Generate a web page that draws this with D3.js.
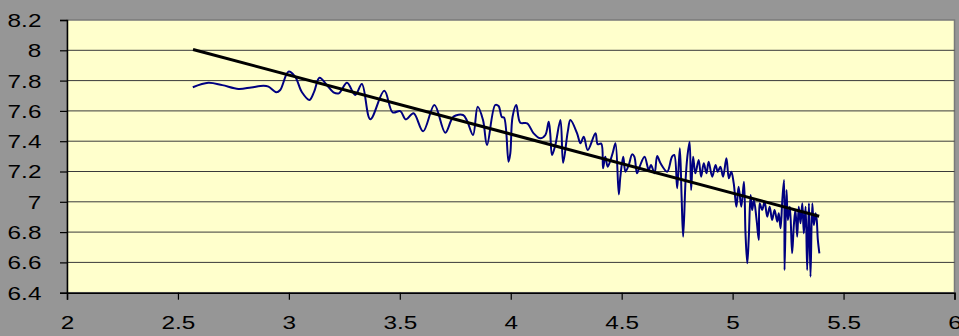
<!DOCTYPE html>
<html>
<head>
<meta charset="utf-8">
<script src="https://cdn.jsdelivr.net/npm/d3@7"></script>
<style>
  body { margin: 0; background: #969696; }
  svg { display: block; }
</style>
</head>
<body>
<svg id="chart"></svg>
<script>
// axis ticks
const xTicks = [2, 2.5, 3, 3.5, 4, 4.5, 5, 5.5, 6];
const yTicks = [6.4, 6.6, 6.8, 7, 7.2, 7.4, 7.6, 7.8, 8, 8.2];

const seriesX = [2.567, 2.637, 2.70, 2.773, 2.83, 2.886, 2.908, 2.943, 2.961, 2.998,
  3.028, 3.059, 3.093, 3.114, 3.138, 3.171, 3.201, 3.225, 3.262, 3.299,
  3.329, 3.367, 3.43, 3.468, 3.502, 3.527, 3.562, 3.605, 3.656, 3.705,
  3.742, 3.785, 3.803, 3.83, 3.851, 3.875, 3.893, 3.93, 3.945, 3.96,
  3.97, 3.99, 3.998, 4.008, 4.025, 4.043, 4.074, 4.103, 4.133, 4.156,
  4.171, 4.178, 4.186, 4.201, 4.224, 4.236, 4.257, 4.269, 4.299, 4.314,
  4.329, 4.347, 4.382, 4.392, 4.408, 4.416, 4.426, 4.437, 4.452, 4.461,
  4.472, 4.487, 4.494, 4.507, 4.517, 4.532, 4.547, 4.557, 4.569, 4.581,
  4.603, 4.622, 4.632, 4.648, 4.66, 4.675, 4.705, 4.727, 4.737, 4.75,
  4.762, 4.77, 4.777, 4.788, 4.796, 4.806, 4.813, 4.822, 4.832, 4.847,
  4.858, 4.87, 4.882, 4.892, 4.908, 4.923, 4.933, 4.945, 4.957, 4.972,
  4.983, 4.994, 5.005, 5.017, 5.027, 5.039, 5.051, 5.058, 5.066, 5.073,
  5.081, 5.088, 5.096, 5.108, 5.118, 5.122, 5.133, 5.144, 5.156, 5.167,
  5.178, 5.189, 5.201, 5.208, 5.216, 5.224, 5.232, 5.234, 5.243, 5.249,
  5.258, 5.268, 5.276, 5.283, 5.291, 5.298, 5.306, 5.314, 5.321, 5.329,
  5.336, 5.344, 5.351, 5.359, 5.366, 5.374, 5.379, 5.384, 5.391];
const seriesY = [7.756, 7.786, 7.77, 7.745, 7.755, 7.766, 7.76, 7.723, 7.738, 7.859,
  7.826, 7.723, 7.672, 7.727, 7.819, 7.771, 7.723, 7.716, 7.786, 7.705,
  7.778, 7.545, 7.733, 7.59, 7.599, 7.544, 7.584, 7.465, 7.639, 7.456,
  7.562, 7.573, 7.535, 7.441, 7.628, 7.54, 7.375, 7.639, 7.632, 7.56,
  7.556, 7.265, 7.32, 7.56, 7.639, 7.522, 7.518, 7.452, 7.419, 7.441,
  7.529, 7.45, 7.309, 7.375, 7.54, 7.258, 7.463, 7.54, 7.452, 7.386,
  7.43, 7.342, 7.452, 7.38, 7.384, 7.221, 7.298, 7.232, 7.287, 7.33,
  7.386, 7.049, 7.166, 7.298, 7.199, 7.243, 7.313, 7.298, 7.188, 7.232,
  7.298, 7.21, 7.243, 7.188, 7.302, 7.254, 7.199, 7.298, 7.309, 7.089,
  7.353, 7.034, 6.77, 7.144, 7.298, 7.397, 7.078, 7.298, 7.188, 7.276,
  7.166, 7.254, 7.188, 7.265, 7.166, 7.243, 7.199, 7.232, 7.166, 7.287,
  7.155, 7.199, 7.122, 6.968, 7.1, 6.968, 7.133, 6.792, 6.594, 6.77,
  7.045, 6.946, 7.012, 6.88, 6.748, 6.99, 6.946, 7.0, 6.902, 6.968,
  6.88, 6.946, 6.869, 6.924, 6.825, 7.012, 7.144, 6.55, 7.078, 6.88,
  6.968, 6.66, 6.847, 6.946, 6.77, 6.968, 6.858, 6.99, 6.792, 6.968,
  6.55, 6.99, 6.506, 6.99, 6.847, 6.924, 6.88, 6.75, 6.66];

// linear trend end points
const trendX = [2.568, 5.39];
const trendY = [8.005, 6.905];

var Width = 959, Height = 336;
var Margin = { left: 67, right: 4.5, top: 20, bottom: 43.3 };
// the labels in the source are stretched sideways
var Stretch = 1.28;

const svg = d3.select("#chart").attr("width", Width).attr("height", Height);

const x = d3.scaleLinear().domain([2, 6]).range([Margin.left, Width - Margin.right]);
const y = d3.scaleLinear().domain([6.4, 8.2]).range([Height - Margin.bottom, Margin.top]);

// plot area
svg.append("rect")
    .attr("x", x(2)).attr("y", y(8.2))
    .attr("width", x(6) - x(2)).attr("height", y(6.4) - y(8.2))
    .attr("fill", "#ffffcc")
    .attr("stroke", "#7a7a7a")
    .attr("stroke-width", 1.5);

// horizontal grid
svg.append("g")
    .selectAll("line")
    .data(yTicks.slice(1, -1))
    .join("line")
    .attr("x1", x(2)).attr("x2", x(6))
    .attr("y1", d => y(d)).attr("y2", d => y(d))
    .attr("stroke", "#3a3a3a")
    .attr("stroke-width", 1);

// y axis
const gy = svg.append("g")
    .attr("transform", `translate(${x(2)},0)`)
    .call(d3.axisLeft(y).tickValues(yTicks).tickSize(7).tickPadding(13).tickFormat(d3.format("")));
gy.select(".domain").attr("stroke", "#000").attr("stroke-width", 1.5);
gy.selectAll(".tick line").attr("stroke", "#000").attr("stroke-width", 1.2);
gy.selectAll("text")
    .attr("font-family", "Liberation Sans, Arial, sans-serif")
    .attr("font-size", 19)
    .attr("fill", "#000")
    .attr("dy", "0.34em")
    .attr("transform", `scale(${Stretch},1)`);

// x axis
const gx = svg.append("g")
    .attr("transform", `translate(0,${y(6.4)})`)
    .call(d3.axisBottom(x).tickValues(xTicks).tickSize(7).tickPadding(16).tickFormat(d3.format("")));
gx.select(".domain").attr("stroke", "#000").attr("stroke-width", 1.5);
gx.selectAll(".tick line").attr("stroke", "#000").attr("stroke-width", 1.2);
gx.selectAll("text")
    .attr("font-family", "Liberation Sans, Arial, sans-serif")
    .attr("font-size", 19)
    .attr("fill", "#000")
    .attr("transform", `scale(${Stretch},1)`);

// the measured series, smoothed like the source
const points = seriesX.map((v, i) => [v, seriesY[i]]);
const line = d3.line()
    .x(d => x(d[0]))
    .y(d => y(d[1]))
    .curve(d3.curveCatmullRom.alpha(0.5));

svg.append("path")
    .datum(points)
    .attr("d", line)
    .attr("fill", "none")
    .attr("stroke", "#000080")
    .attr("stroke-width", 2)
    .attr("stroke-linejoin", "round");

// trend line
svg.append("path")
    .datum(trendX.map((v, i) => [v, trendY[i]]))
    .attr("d", d3.line().x(d => x(d[0])).y(d => y(d[1])))
    .attr("fill", "none")
    .attr("stroke", "#000")
    .attr("stroke-width", 3);
</script>
</body>
</html>
